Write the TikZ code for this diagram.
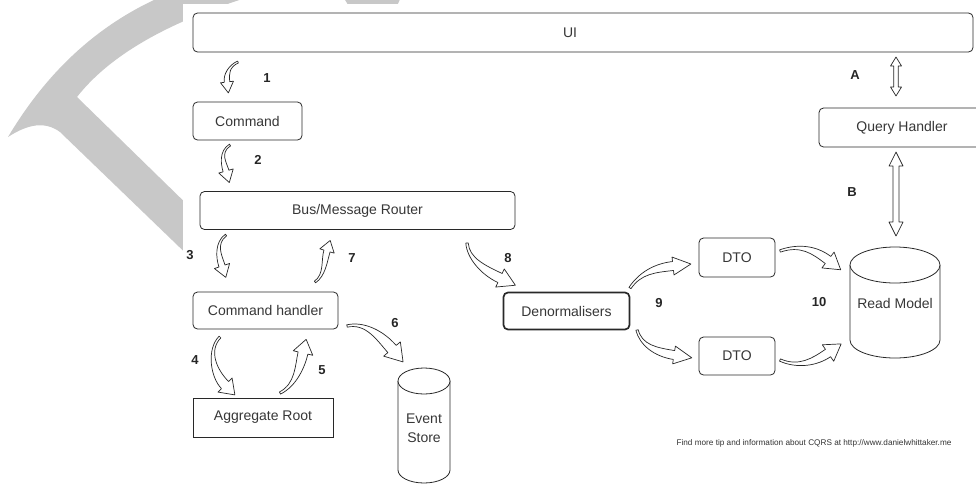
\documentclass[tikz,border=0pt]{standalone}
\usepackage{fontspec}
\setmainfont{Liberation Sans}
\usetikzlibrary{calc}
\definecolor{wm}{RGB}{200,200,200}
\definecolor{txt}{RGB}{55,55,55}
\definecolor{ln}{RGB}{40,40,40}
% curved, tapered block arrow: P0 P1 P2 P3 tailhalfwidth bodyhalfwidth headhalfwidth headlength
\newcommand\barrow[8]{%
  \draw[arr] ($(#1)!#5!90:(#2)$) .. controls ($(#2)!#5!-90:(#1)$) and ($(#3)!#6!90:(#4)$) .. ($(#4)!#6!-90:(#3)$)
    -- ($(#4)!#7!-90:(#3)$) -- ($(#4)!-#8!(#3)$) -- ($(#4)!#7!90:(#3)$) -- ($(#4)!#6!90:(#3)$)
    .. controls ($(#3)!#6!-90:(#4)$) and ($(#2)!#5!90:(#1)$) .. ($(#1)!#5!-90:(#2)$) -- cycle;}
% vertical double-headed block arrow: x ytop ybot bodyhalf headhalf headlen
\newcommand\dbarrow[6]{%
  \draw[arr] (#1,#2) -- (#1+#5,#2+#6) -- (#1+#4,#2+#6) -- (#1+#4,#3-#6) -- (#1+#5,#3-#6) -- (#1,#3)
    -- (#1-#5,#3-#6) -- (#1-#4,#3-#6) -- (#1-#4,#2+#6) -- (#1-#5,#2+#6) -- cycle;}
\tikzset{
  box/.style={draw=ln, line width=0.8pt, rounded corners=4.5pt, fill=white, text=txt,
    font=\fontsize{14}{16}\selectfont, inner sep=0pt},
  sqbox/.style={box, rounded corners=0pt},
  lbl/.style={font=\bfseries\fontsize{13}{15}\selectfont, text=black!85, inner sep=0pt},
  arr/.style={draw=ln, line width=0.7pt, fill=white, line join=round},
  cyl/.style={draw=ln, line width=0.8pt, fill=white},
}
\begin{document}
\begin{tikzpicture}[x=1pt,y=-1pt]
\useasboundingbox (0,0) rectangle (976,485);
\clip (0,0) rectangle (976,485);
% watermark
\fill[wm] (8,137) .. controls (45,75) and (95,25) .. (165,-5) -- (255,-5)
  .. controls (200,12) and (120,42) .. (77,97) -- (200,217) -- (200,267) -- (60,132)
  .. controls (45,121) and (28,124) .. (8,137) -- cycle;
\fill[wm] (342,-5) -- (402,-5) -- (396,8) -- (350,8) -- cycle;
\fill[white] (183,4) rectangle (976,485);

% nodes
\node[box, minimum width=780pt, minimum height=39pt] (ui) at (583,32.5) {};
\node[text=txt, font=\fontsize{14}{16}\selectfont, inner sep=0pt] (uit) at ($(ui.center)+(-13,0)$) {UI};
\node[box, minimum width=109pt, minimum height=38pt] (cmd) at (247.5,121) {Command};
\node[box, minimum width=315pt, minimum height=38pt] (bus) at (357.5,210.5) {Bus/Message Router};
\node[box, minimum width=145pt, minimum height=37pt] (ch) at (265.5,310.5) {Command handler};
\node[sqbox, minimum width=140pt, minimum height=39pt] (ar) at (263,417.5) {Aggregate Root};
\node[box, line width=1.7pt, minimum width=126pt, minimum height=37pt] (den) at (566.5,311) {Denormalisers};
\node[box, minimum width=76pt, minimum height=39pt] (dto1) at (737,257.5) {DTO};
\node[box, minimum width=76pt, minimum height=38pt] (dto2) at (737,356) {DTO};
\node[box, minimum width=166pt, minimum height=39pt] (qh) at (902,127.5) {Query Handler};

% Event Store cylinder
\draw[cyl] (398,381) -- (398,470) arc[start angle=180, end angle=360, x radius=26pt, y radius=13pt] -- (450,381);
\draw[cyl] (424,381) ellipse[x radius=26pt, y radius=13pt];
\node[text=txt, font=\fontsize{14}{19}\selectfont, align=center, inner sep=0pt] (es) at (424,428) {Event\\Store};

% Read Model cylinder
\draw[cyl] (850,265) -- (850,340) arc[start angle=180, end angle=360, x radius=45pt, y radius=18pt] -- (940,265);
\draw[cyl] (895,265) ellipse[x radius=45pt, y radius=18pt];
\node[text=txt, font=\fontsize{14}{16}\selectfont, inner sep=0pt] (rm) at (895,303) {Read Model};

% curved block arrows
\barrow{238,62}{229,66}{226,74}{227,82}{1pt}{2.8pt}{6.5pt}{11pt}
\barrow{230,145}{219,152}{224,164}{226,171}{1pt}{3pt}{7.5pt}{12pt}
\barrow{226,235}{215,243}{219,257}{222,266}{1pt}{3.2pt}{8pt}{12pt}
\barrow{315,282}{325,275}{324,261}{327,251}{1pt}{3.2pt}{7.5pt}{11pt}
\barrow{220,337}{207,350}{214,374}{225,385}{1.2pt}{5pt}{10pt}{14pt}
\barrow{280,393}{296,385}{300,366}{303,353}{1.2pt}{5pt}{10pt}{14pt}
\barrow{347,326}{365,322}{380,335}{392,349}{1.2pt}{5.5pt}{11pt}{17pt}
\barrow{467,243}{468,258}{483,270}{500,278}{1.2pt}{5pt}{10pt}{17pt}
\barrow{630,288}{640,273}{655,268}{673,266}{1.2pt}{4.5pt}{9pt}{18pt}
\barrow{637,330}{641,345}{655,352}{674,355}{1.2pt}{4.5pt}{9pt}{18pt}
\barrow{780,251}{800,244}{815,250}{828,260}{1.2pt}{4.5pt}{10pt}{16pt}
\barrow{780,360}{798,368}{815,362}{828,353}{1.2pt}{4.5pt}{10pt}{16pt}

% double arrows
\dbarrow{896}{57}{96}{2.2}{5.5}{9}
\dbarrow{896}{152}{236}{3}{7}{14}

% labels
\node[lbl] (l1) at (267,78) {1};
\node[lbl] (l2) at (258,160) {2};
\node[lbl] (l3) at (190,255) {3};
\node[lbl] (l7) at (352,258) {7};
\node[lbl] (l4) at (195,360) {4};
\node[lbl] (l5) at (322,370) {5};
\node[lbl] (l6) at (395,323) {6};
\node[lbl] (l8) at (508,258) {8};
\node[lbl] (l9) at (659,303) {9};
\node[lbl] (l10) at (819,302) {10};
\node[lbl] (lA) at (855,75) {A};
\node[lbl] (lB) at (852,192) {B};

\node[text=black!80, font=\fontsize{8.2}{10}\selectfont, inner sep=0pt] (foot) at (814,443)
  {Find more tip and information about CQRS at http://www.danielwhittaker.me};
\end{tikzpicture}
\end{document}
